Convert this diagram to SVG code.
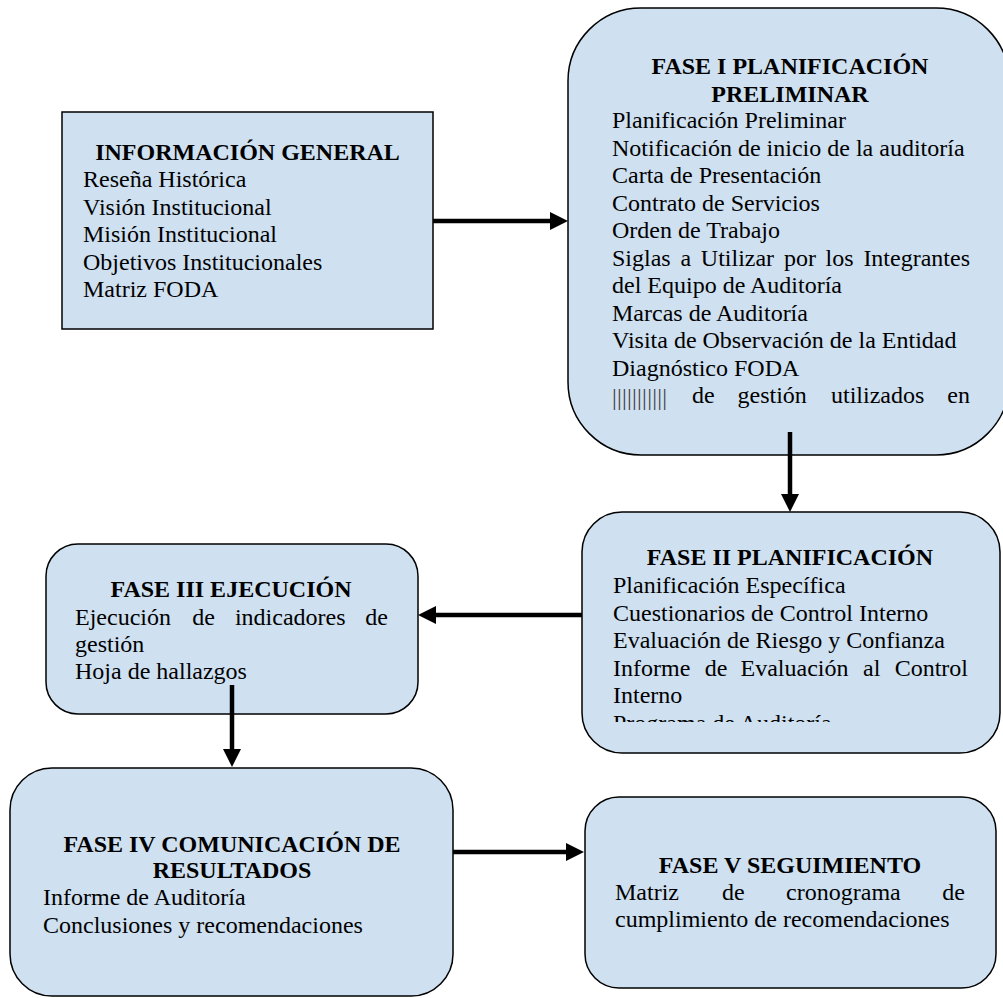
<svg xmlns="http://www.w3.org/2000/svg" width="1003" height="998" viewBox="0 0 1003 998">
<style>
.box{fill:#cfe0f1;stroke:#000;stroke-width:1.5}
.t{font-family:"Liberation Serif","Times New Roman",serif;font-size:24px;fill:#000}
.b{font-weight:bold;text-anchor:middle}
.e{text-anchor:end}
.conn{stroke:#000;stroke-width:4.5;fill:none}
.bars{font-family:"Liberation Serif",serif;font-size:24px;fill:#444}
</style>
<defs>
<marker id="ah" viewBox="0 0 18 18" refX="0" refY="9" markerWidth="18" markerHeight="18" markerUnits="userSpaceOnUse" orient="auto">
<path d="M0,0 L18,9 L0,18 z" fill="#000"/>
</marker>
<clipPath id="c2"><rect x="582" y="512" width="418" height="210"/></clipPath>
</defs>
<rect width="1003" height="998" fill="#fff"/>

<g id="info">
<rect class="box" x="62" y="112" width="371" height="217"/>
<text class="t b" x="247.5" y="160">INFORMACIÓN GENERAL</text>
<text class="t" x="83" y="187">Reseña Histórica</text>
<text class="t" x="83" y="215">Visión Institucional</text>
<text class="t" x="83" y="242">Misión Institucional</text>
<text class="t" x="83" y="270">Objetivos Institucionales</text>
<text class="t" x="83" y="297">Matriz FODA</text>
</g>

<g id="fase1">
<rect class="box" x="568" y="8" width="441" height="447" rx="73" ry="73"/>
<text class="t b" x="790" y="74">FASE I PLANIFICACIÓN</text>
<text class="t b" x="790" y="102">PRELIMINAR</text>
<text class="t" x="612" y="128">Planificación Preliminar</text>
<text class="t" x="612" y="155.5">Notificación de inicio de la auditoría</text>
<text class="t" x="612" y="183">Carta de Presentación</text>
<text class="t" x="612" y="210.5">Contrato de Servicios</text>
<text class="t" x="612" y="238">Orden de Trabajo</text>
<text class="t" y="265.5"><tspan x="612">Siglas</tspan><tspan x="680.4">a</tspan><tspan x="700.8">Utilizar</tspan><tspan x="783.9">por</tspan><tspan x="825.6">los</tspan></text>
<text class="t e" x="970" y="265.5">Integrantes</text>
<text class="t" x="612" y="293">del Equipo de Auditoría</text>
<text class="t" x="612" y="320.5">Marcas de Auditoría</text>
<text class="t" x="612" y="348">Visita de Observación de la Entidad</text>
<text class="t" x="612" y="375.5">Diagnóstico FODA</text>
<text class="bars" x="612" y="405" textLength="55" lengthAdjust="spacing">|||||||||||</text>
<text class="t" y="403"><tspan x="692">de</tspan><tspan x="737.5">gestión</tspan><tspan x="831">utilizados</tspan></text>
<text class="t e" x="970" y="403">en</text>
</g>

<g id="fase2">
<rect class="box" x="582" y="512" width="418" height="241" rx="40" ry="40"/>
<text class="t b" x="790" y="565">FASE II PLANIFICACIÓN</text>
<text class="t" x="613" y="593">Planificación Específica</text>
<text class="t" x="613" y="621">Cuestionarios de Control Interno</text>
<text class="t" x="613" y="648">Evaluación de Riesgo y Confianza</text>
<text class="t" y="676"><tspan x="613">Informe</tspan><tspan x="704.8">de</tspan><tspan x="740.5">Evaluación</tspan><tspan x="863">al</tspan></text>
<text class="t e" x="968" y="676">Control</text>
<text class="t" x="613" y="703">Interno</text>
<text class="t" x="613" y="731" clip-path="url(#c2)">Programa de Auditoría</text>
</g>

<g id="fase3">
<rect class="box" x="46" y="544" width="372" height="170" rx="32" ry="32"/>
<text class="t b" x="231" y="597">FASE III EJECUCIÓN</text>
<text class="t" y="625"><tspan x="75">Ejecución</tspan><tspan x="192.3">de</tspan><tspan x="234.9">indicadores</tspan></text>
<text class="t e" x="388" y="625">de</text>
<text class="t" x="75" y="652">gestión</text>
<text class="t" x="75" y="679">Hoja de hallazgos</text>
</g>

<g id="fase4">
<rect class="box" x="10" y="768" width="443" height="228" rx="42" ry="42"/>
<text class="t b" x="232" y="852">FASE IV COMUNICACIÓN DE</text>
<text class="t b" x="232" y="878">RESULTADOS</text>
<text class="t" x="43" y="905">Informe de Auditoría</text>
<text class="t" x="43" y="933">Conclusiones y recomendaciones</text>
</g>

<g id="fase5">
<rect class="box" x="585" y="797" width="411" height="191" rx="34" ry="34"/>
<text class="t b" x="790" y="873">FASE V SEGUIMIENTO</text>
<text class="t" y="900"><tspan x="615">Matriz</tspan><tspan x="721.9">de</tspan><tspan x="786.1">cronograma</tspan></text>
<text class="t e" x="965" y="900">de</text>
<text class="t" x="615" y="927">cumplimiento de recomendaciones</text>
</g>

<g id="connectors">
<path class="conn" d="M433,221 H550" marker-end="url(#ah)"/>
<path class="conn" d="M790,432 V494" marker-end="url(#ah)"/>
<path class="conn" d="M582,615 H436" marker-end="url(#ah)"/>
<path class="conn" d="M232,685 V749" marker-end="url(#ah)"/>
<path class="conn" d="M453,852 H566" marker-end="url(#ah)"/>
</g>
</svg>
